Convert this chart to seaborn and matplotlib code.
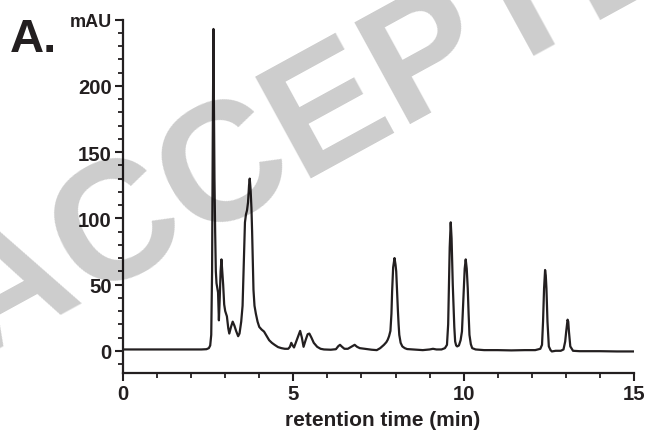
import matplotlib
matplotlib.use("Agg")
import matplotlib.pyplot as plt
from matplotlib.ticker import MultipleLocator, FixedLocator, FixedFormatter
import seaborn as sns
import pandas as pd

# HPLC trace: retention time (min) and absorbance (mAU)
retention_time = [
    0.0, 0.5, 1.0, 1.5, 2.0, 2.3, 2.45, 2.52, 2.56, 2.59, 2.615, 2.635, 2.655,
    2.665, 2.685, 2.705, 2.725, 2.745, 2.77, 2.79, 2.815, 2.84, 2.865, 2.89,
    2.915, 2.94, 2.97, 3.0, 3.05, 3.09, 3.12, 3.17, 3.22, 3.27, 3.32, 3.38,
    3.42, 3.47, 3.51, 3.55, 3.58, 3.61, 3.64, 3.67, 3.70, 3.72, 3.745, 3.77,
    3.79, 3.81, 3.83, 3.86, 3.90, 3.95, 4.0, 4.07, 4.14, 4.22, 4.29, 4.37,
    4.45, 4.55, 4.65, 4.75, 4.85, 4.90, 4.94, 4.98, 5.02, 5.1, 5.2, 5.25,
    5.3, 5.36, 5.42, 5.47, 5.53, 5.6, 5.7, 5.8, 5.9, 6.1, 6.25, 6.32, 6.37,
    6.43, 6.5, 6.6, 6.7, 6.8, 6.87, 6.95, 7.1, 7.3, 7.45, 7.55, 7.66, 7.73,
    7.77, 7.81, 7.85, 7.88, 7.90, 7.93, 7.97, 8.0, 8.02, 8.045, 8.07, 8.09,
    8.11, 8.15, 8.20, 8.27, 8.34, 8.5, 8.8, 9.0, 9.1, 9.2, 9.35, 9.45, 9.51,
    9.545, 9.56, 9.59, 9.62, 9.645, 9.66, 9.68, 9.70, 9.725, 9.75, 9.78,
    9.81, 9.86, 9.91, 9.95, 9.975, 10.0, 10.03, 10.06, 10.09, 10.12, 10.145,
    10.17, 10.21, 10.25, 10.35, 10.6, 11.0, 11.4, 11.8, 12.1, 12.25, 12.30,
    12.33, 12.36, 12.39, 12.41, 12.43, 12.46, 12.50, 12.55, 12.59, 12.7,
    12.85, 12.93, 12.98, 13.01, 13.05, 13.07, 13.09, 13.13, 13.21, 13.4,
    14.0, 14.5, 15.0,
]
absorbance = [
    1, 1, 1, 1, 1, 1, 1.2, 2, 4, 12, 60, 160, 243,
    200, 130, 90, 60, 51, 47, 44, 23, 40, 60, 69,
    60, 50, 35, 30, 26, 17, 13, 18, 22, 19, 15, 11,
    13, 22, 34, 71, 97, 103, 106, 112, 125, 130, 122, 108,
    90, 68, 46, 34, 28, 22, 18, 16, 14.5, 11, 8, 6,
    4.5, 2.8, 2, 1.5, 1.5, 3, 6, 4, 2.5, 8, 15, 10,
    3, 8, 12.5, 13, 10, 6, 3, 1.5, 1, 0.8, 1.2, 3.5, 4.5,
    3, 1.5, 1.5, 3, 4.5, 3, 2, 1.5, 0.8, 0.5, 2, 4.5, 6.5,
    8.3, 11, 15, 28, 45, 63, 70, 65, 60, 45, 30, 20,
    12, 6, 3.3, 2, 1.3, 1, 0.5, 1, 1.5, 1, 1, 2, 4.5,
    20, 40, 78, 97, 85, 70, 50, 35, 18, 7, 4,
    3.3, 4, 8, 14.6, 30, 47, 62, 69, 62, 47, 28,
    12, 5, 2, 1, 0.5, 0.5, 0.3, 0.5, 0.5, 1.5, 4.5,
    22, 47, 61, 57, 47, 22, 3.3, 0.5, -0.5, 0,
    0, 1, 7, 14.6, 23.5, 22, 14.6, 3.3, 0, -0.3,
    -0.3, -0.5, -0.5,
]

x_ticks = [0, 5, 10, 15]
x_tick_labels = ["0", "5", "10", "15"]
y_ticks = [0, 50, 100, 150, 200, 250]
y_tick_labels = ["0", "50", "100", "150", "200", "mAU"]

ink = "#231f20"

sns.set_style("ticks")
plt.rcParams["font.family"] = ["Liberation Sans", "DejaVu Sans"]

fig = plt.figure(figsize=(6.48, 4.31), dpi=100)
ax = fig.add_axes([123 / 648, 1 - 374.3 / 431, 511 / 648, 353.6 / 431])

trace = pd.DataFrame({"time": retention_time, "mAU": absorbance})
sns.lineplot(data=trace, x="time", y="mAU", ax=ax, color=ink,
             linewidth=1.6, estimator=None, sort=False)

ax.set_xlim(0, 15)
ax.set_ylim(-17, 250)
for side in ("top", "right"):
    ax.spines[side].set_visible(False)
for side in ("left", "bottom"):
    ax.spines[side].set_linewidth(1.6)
    ax.spines[side].set_color(ink)

ax.xaxis.set_major_locator(FixedLocator(x_ticks))
ax.xaxis.set_major_formatter(FixedFormatter(x_tick_labels))
ax.xaxis.set_minor_locator(MultipleLocator(1))
ax.yaxis.set_major_locator(FixedLocator(y_ticks))
ax.yaxis.set_major_formatter(FixedFormatter(y_tick_labels))
ax.yaxis.set_minor_locator(MultipleLocator(10))

ax.tick_params(which="major", direction="out", length=6, width=1.5,
               color=ink, labelsize=14.6, labelcolor=ink, pad=2)
ax.tick_params(which="minor", direction="out", length=3.5, width=1.3,
               color=ink)
for lbl in ax.get_xticklabels() + ax.get_yticklabels():
    lbl.set_fontweight("bold")
ax.get_yticklabels()[-1].set_fontsize(13)

ax.set_xlabel("retention time (min)", fontsize=15, fontweight="bold",
              color=ink, labelpad=4.5)
ax.xaxis.set_label_coords(0.508, -0.103)
ax.xaxis.label.set_va("top")
ax.set_ylabel("")

# panel letter
fig.text(10 / 648, 1 - 52 / 431, "A.", fontsize=34, fontweight="bold",
         color=ink, ha="left", va="baseline")

# diagonal watermark
fig.text(-20.5 / 648, 1 - 360.7 / 431, "ACCEPTED MANUSCRIPT", fontsize=122,
         fontweight="bold", color="black", alpha=0.2, rotation=28.7,
         rotation_mode="anchor", ha="left", va="baseline", zorder=10)

fig.savefig("out.png", dpi=100)
